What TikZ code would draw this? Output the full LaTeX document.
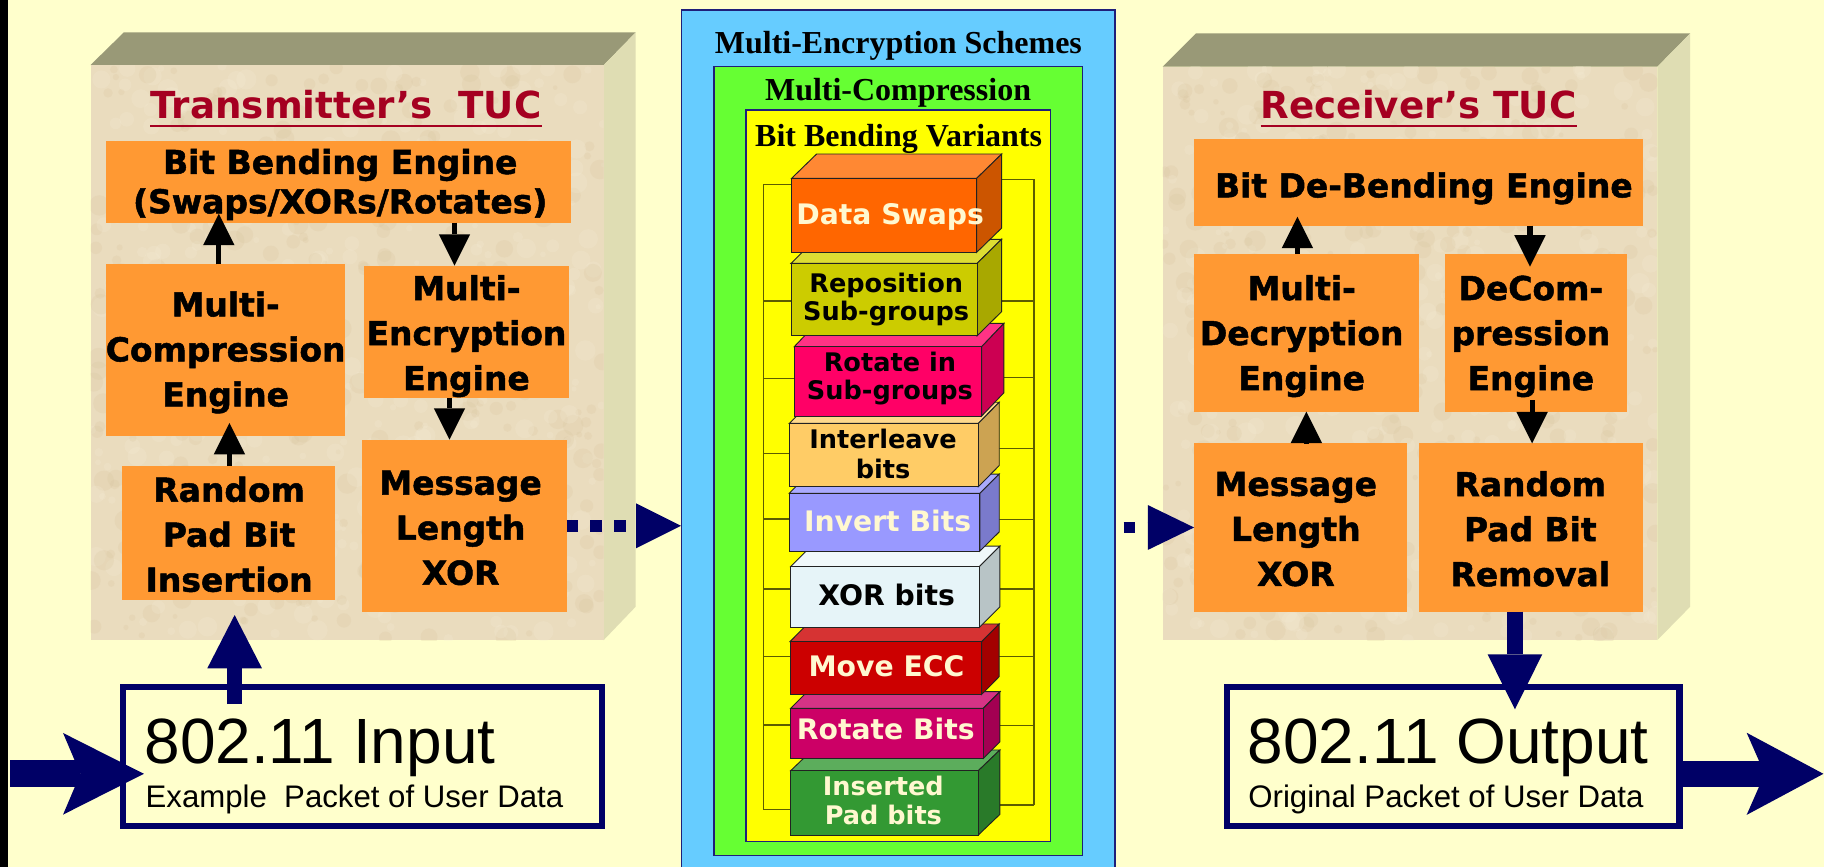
\documentclass[tikz,border=0pt]{standalone}
\usepackage{fontspec}
\setmainfont{DejaVu Sans}
\newfontfamily\boxf{DejaVu Sans Bold}[FakeBold=1.5]
\newfontfamily\arialf{Liberation Sans}
\newfontfamily\timesf{Liberation Serif}
\usetikzlibrary{arrows.meta,fit}
\definecolor{bg}{HTML}{FFFFCC}
\definecolor{tuctop}{HTML}{999977}
\definecolor{tucside}{HTML}{DFDDB3}
\definecolor{tucfront}{HTML}{EADCBE}
\definecolor{texlight}{HTML}{F6EDD8}
\definecolor{texdark}{HTML}{D8C49E}
\definecolor{orng}{HTML}{FF9933}
\definecolor{navy}{HTML}{000066}
\definecolor{titlered}{HTML}{A50021}
\definecolor{cblue}{HTML}{66CCFF}
\definecolor{cgreen}{HTML}{66FF33}
\definecolor{cyellow}{HTML}{FFFF00}
\definecolor{cborder}{HTML}{1F1F7A}
\definecolor{stkcol}{HTML}{5C5C00}
\definecolor{edge}{HTML}{222222}
\definecolor{cream}{HTML}{FFF8D0}
% block colours: f = front, t = top, s = side
\definecolor{bDSf}{HTML}{FF6600}\definecolor{bDSt}{HTML}{FF8833}\definecolor{bDSs}{HTML}{CC5500}
\definecolor{bRPf}{HTML}{CCCC00}\definecolor{bRPt}{HTML}{DDDD33}\definecolor{bRPs}{HTML}{A8A800}
\definecolor{bRIf}{HTML}{FF0066}\definecolor{bRIt}{HTML}{FF3385}\definecolor{bRIs}{HTML}{CC0052}
\definecolor{bILf}{HTML}{FFCC66}\definecolor{bILt}{HTML}{FFD98C}\definecolor{bILs}{HTML}{CCA352}
\definecolor{bIBf}{HTML}{9999FF}\definecolor{bIBt}{HTML}{AAAAFF}\definecolor{bIBs}{HTML}{7A7ACC}
\definecolor{bXBf}{HTML}{E6F4F8}\definecolor{bXBt}{HTML}{F0F8FA}\definecolor{bXBs}{HTML}{B8C4C6}
\definecolor{bMEf}{HTML}{CC0000}\definecolor{bMEt}{HTML}{D63333}\definecolor{bMEs}{HTML}{A30000}
\definecolor{bRBf}{HTML}{CC0066}\definecolor{bRBt}{HTML}{D63385}\definecolor{bRBs}{HTML}{A30052}
\definecolor{bIPf}{HTML}{339933}\definecolor{bIPt}{HTML}{5CAD5C}\definecolor{bIPs}{HTML}{297A29}
% #1 name, #2 x1, #3 y1, #4 x2, #5 y2, #6 dx, #7 dy
\newcommand{\bblock}[7]{%
  \filldraw[fill=#1t, draw=edge, line width=.8pt] (#2,#3) -- (#2+#6,#3-#7) -- (#4+#6,#3-#7) -- (#4,#3) -- cycle;
  \filldraw[fill=#1s, draw=edge, line width=.8pt] (#4,#3) -- (#4+#6,#3-#7) -- (#4+#6,#5-#7) -- (#4,#5) -- cycle;
  \node[fit={(#2,#3) (#4,#5)}, inner sep=0pt, fill=#1f, draw=edge, line width=.8pt] (#1) {};
}
% parchment texture inside a rectangle: #1 x1, #2 y1, #3 width, #4 height
\newcommand{\parchment}[4]{%
  \begin{scope}
  \clip (#1,#2) rectangle (#1+#3,#2+#4);
  \foreach \i in {1,...,700}{%
    \pgfmathsetmacro{\px}{#1+#3*rnd}%
    \pgfmathsetmacro{\py}{#2+#4*rnd}%
    \pgfmathsetmacro{\rr}{2+7*rnd}%
    \pgfmathsetmacro{\cc}{rnd}%
    \ifdim\cc pt<0.5pt \def\tcol{texlight}\else\def\tcol{texdark}\fi
    \fill[\tcol, opacity=0.22] (\px,\py) circle[radius=\rr];
  }
  \end{scope}
}
\begin{document}
\begin{tikzpicture}[x=1pt,y=-1pt,
  obox/.style={fill=orng, inner sep=0pt, outer sep=0pt},
  boxtxt/.style={font=\boxf\fontsize{28.3}{38.7}\selectfont, align=center, inner sep=0pt, text=black},
  blktwo/.style={font=\bfseries\fontsize{22}{24.5}\selectfont, align=center, inner sep=0pt},
  blkone/.style={font=\bfseries\fontsize{24.3}{29}\selectfont, inner sep=0pt},
  ttlfont/.style={font=\bfseries\fontsize{32}{38}\selectfont, text=titlered, inner sep=0pt},
  ctitle/.style={font=\timesf\bfseries\fontsize{27.5}{33}\selectfont, inner sep=0pt},
  blkarr/.style={draw=black, line width=4.5pt, -{Triangle[length=27pt,width=27pt,line width=0pt]}},
  nest/.style={inner sep=0pt, draw=cborder, line width=1pt},
  stk/.style={draw=stkcol, line width=1pt},
  iobox/.style={draw=navy, line width=5.4pt, inner sep=0pt},
  iobig/.style={font=\arialf\fontsize{55}{60}\selectfont, inner sep=0pt, anchor=base west},
  iosmall/.style={font=\arialf\fontsize{26.8}{30}\selectfont, inner sep=0pt, anchor=base west},
]
\useasboundingbox (0,0) rectangle (1568,745);
\clip (0,0) rectangle (1568,745);
\fill[bg] (0,0) rectangle (1568,745);
\fill[black] (0,0) rectangle (7.2,745);
\pgfmathsetseed{4242}

% ---------- Transmitter's TUC ----------
\fill[tuctop] (77.8,55.9) -- (106.5,27.8) -- (546.5,27.8) -- (519,55.9) -- cycle;
\fill[tucside] (519,55.9) -- (546.5,27.8) -- (546.5,521.5) -- (519,550.2) -- cycle;
\node[fit={(77.8,55.9) (519,550.2)}, inner sep=0pt, fill=tucfront] (ltuc) {};
\parchment{77.8}{55.9}{441.2}{494.3}
\node[ttlfont, anchor=base] (ttl) at (297.5,101.7) {Transmitter’s\ \ TUC};
\draw[titlered, line width=2.5pt] ([yshift=-6.6pt]ttl.base west) -- ([yshift=-6.6pt]ttl.base east);

\node[obox, fit={(91.2,121.2) (491,191.4)}] (bbe) {};
\node[obox, fit={(91.2,227.2) (296.7,374.5)}] (mc) {};
\node[obox, fit={(313,228.4) (489.5,342.4)}] (me) {};
\node[obox, fit={(104.9,400.6) (288.3,515.8)}] (rpi) {};
\node[obox, fit={(311,378) (487,526)}] (mlx) {};

\node[boxtxt, font=\boxf\fontsize{28.3}{33.8}\selectfont] (tbbe) at (292.5,159.7) {\strut Bit Bending Engine\\(Swaps/XORs/Rotates)\strut};
\node[boxtxt] (tmc) at (194,302.9) {\strut Multi-\\Compression\\Engine\strut};
\node[boxtxt] (tme) at (401,288.9) {\strut Multi-\\Encryption\\Engine\strut};
\node[boxtxt] (trpi) at (197,462.2) {\strut Random\\Pad Bit\\Insertion\strut};
\node[boxtxt] (tmlx) at (396,456.2) {\strut Message\\Length\\XOR\strut};

% ---------- Receiver's TUC ----------
\fill[tuctop] (999.5,57.3) -- (1028.2,28.7) -- (1453,28.7) -- (1424.8,57.3) -- cycle;
\fill[tucside] (1424.8,57.3) -- (1453,28.7) -- (1453,521.5) -- (1424.8,550.2) -- cycle;
\node[fit={(999.5,57.3) (1424.8,550.2)}, inner sep=0pt, fill=tucfront] (rtuc) {};
\parchment{999.5}{57.3}{425.3}{492.9}
\node[ttlfont, anchor=base] (rttl) at (1219.5,101.7) {Receiver’s TUC};
\draw[titlered, line width=2.5pt] ([yshift=-6.6pt]rttl.base west) -- ([yshift=-6.6pt]rttl.base east);

\node[obox, fit={(1026.5,119.8) (1412.5,194)}] (bdb) {};
\node[obox, fit={(1026.5,218.3) (1219.5,353.9)}] (md) {};
\node[obox, fit={(1242.2,218.3) (1398.2,353.9)}] (dc) {};
\node[obox, fit={(1026.5,381.1) (1209.8,525.8)}] (mlr) {};
\node[obox, fit={(1219.5,381.1) (1412.5,525.8)}] (rpr) {};

\node[boxtxt] (tbdb) at (1224,161.9) {\strut Bit De-Bending Engine\strut};
\node[boxtxt] (tmd) at (1119,288.9) {\strut Multi-\\Decryption\\Engine\strut};
\node[boxtxt] (tdc) at (1316,288.9) {\strut DeCom-\\pression\\Engine\strut};
\node[boxtxt] (tmlr) at (1114,457.2) {\strut Message\\Length\\XOR\strut};
\node[boxtxt] (trpr) at (1315.5,457.5) {\strut Random\\Pad Bit\\Removal\strut};

% ---------- black arrows ----------
\coordinate (ax1) at (188.1,0);
\coordinate (ax2) at (390.7,0);
\coordinate (ax3) at (386.4,0);
\coordinate (ax4) at (197.2,0);
\coordinate (ax5) at (1115.3,0);
\coordinate (ax6) at (1315.2,0);
\coordinate (ax7) at (1123,0);
\coordinate (ax8) at (1317.1,0);
\draw[blkarr, shorten >=-7.6pt] (mc.north -| ax1) -- (bbe.south -| ax1);
\draw[blkarr] (bbe.south -| ax2) -- (me.north -| ax2);
\draw[blkarr] (me.south -| ax3) -- (mlx.north -| ax3);
\draw[blkarr, shorten >=-10.9pt] (rpi.north -| ax4) -- (mc.south -| ax4);
\draw[blkarr, shorten >=-7.7pt] (md.north -| ax5) -- (bdb.south -| ax5);
\draw[blkarr, shorten >=-10.9pt] (bdb.south -| ax6) -- (dc.north -| ax6);
\draw[blkarr] (mlr.north -| ax7) -- (md.south -| ax7);
\draw[blkarr, shorten <=-10pt] (dc.south -| ax8) -- (rpr.north -| ax8);

% ---------- central nested boxes ----------
\node[nest, fill=cblue, fit={(586,8.6) (958.5,760)}] (blue) {};
\node[nest, fill=cgreen, fit={(613.8,57.3) (930.7,735.6)}] (green) {};
\node[nest, fill=cyellow, fit={(641.3,94.6) (903.2,723.5)}] (yellow) {};
\node[ctitle, anchor=base] (tblue) at (772.3,45.9) {Multi-Encryption Schemes};
\node[ctitle, anchor=base] (tgreen) at (772,86) {Multi-Compression};
\node[ctitle, anchor=base] (tyellow) at (772.5,126) {Bit Bending Variants};

% stack bracket lines
\draw[stk] (656.2,158.5) -- (656.2,696.3);
\draw[stk] (888.9,154.2) -- (888.9,692);
\foreach \yy in {158.5,258.8,325.2,389.7,446.2,506.3,564.5,623.2,695.7}
  \draw[stk] (656.2,\yy) -- (690,\yy);
\foreach \yy in {154.2,258.8,324.6,385.4,446.5,506.3,564,623.8,692}
  \draw[stk] (888.9,\yy) -- (850,\yy);

% blocks, bottom to top
\bblock{bIP}{679.7}{662.5}{841}{717.8}{18.6}{17.8}
\bblock{bRB}{679.7}{608.9}{845.3}{651.9}{14.3}{14.3}
\bblock{bME}{679.1}{551.6}{843.9}{596.9}{15}{15.2}
\bblock{bXB}{679.7}{487.1}{841.9}{539.3}{17.7}{17.7}
\bblock{bIB}{678.5}{424}{842.4}{473.7}{16.6}{16.5}
\bblock{bIL}{678.5}{364}{841}{418.4}{18}{18.2}
\bblock{bRI}{682.8}{298}{843.9}{357.6}{19.1}{20}
\bblock{bRP}{680}{226.4}{840}{288.6}{21}{20.7}
\bblock{bDS}{680.5}{153.3}{839.6}{216.9}{21.5}{20.9}

\node[blkone, text=cream] (tDS) at (765.2,186.8) {\strut Data Swaps};
\node[blktwo, text=black] (tRP) at (761.8,258.7) {\strut Reposition\\Sub-groups\strut};
\node[blktwo, text=black] (tRI) at (765,326.4) {\strut Rotate in\\Sub-groups\strut};
\node[blktwo, text=black, font=\bfseries\fontsize{22}{25.5}\selectfont] (tIL) at (759.1,393.2) {\strut Interleave\\bits\strut};
\node[blkone, text=cream] (tIB) at (763,450.7) {\strut Invert Bits};
\node[blkone, text=black] (tXB) at (762.2,514.9) {\strut XOR bits};
\node[blkone, text=cream] (tME) at (762,575.9) {\strut Move ECC};
\node[blkone, text=cream] (tRB) at (761.5,630.3) {\strut Rotate Bits};
\node[blktwo, text=cream, font=\bfseries\fontsize{22}{25.5}\selectfont] (tIP) at (759.4,691.2) {\strut Inserted\\Pad bits\strut};

% ---------- input / output boxes ----------
\node[iobox, minimum width=411.5pt, minimum height=119.6pt] (inbox) at (311.55,650.5) {};
\node[iobig] (tin1) at (124,656.2) {802.11 Input};
\node[iosmall] (tin2) at (125,694) {Example\ \ Packet of User Data};
\node[iobox, minimum width=388.7pt, minimum height=119.6pt] (outbox) at (1249.35,650.5) {};
\node[iobig] (tout1) at (1072.5,656.2) {802.11 Output};
\node[iosmall] (tout2) at (1073,694) {Original Packet of User Data};

% ---------- navy arrows ----------
\coordinate (inA) at (8.6,665.2);
\coordinate (outB) at (1567.5,665.2);
\coordinate (upx) at (201.7,0);
\coordinate (dnx) at (1302.3,0);
\draw[navy, line width=22.9pt, shorten >=-20.6pt,
  -{Stealth[length=69.5pt,width=70.2pt,inset=14.9pt,line width=0pt]}]
  (inA) -- (inA -| inbox.west);
\draw[navy, line width=12.7pt, shorten <=-17.2pt, shorten >=12.9pt,
  -{Triangle[length=45.8pt,width=47pt,line width=0pt]}]
  (inbox.north -| upx) -- (rpi.south -| upx);
\draw[navy, line width=13.5pt, shorten >=-21.8pt,
  -{Triangle[length=47.3pt,width=47pt,line width=0pt]}]
  (rpr.south -| dnx) -- (outbox.north -| dnx);
\draw[navy, line width=22.8pt,
  -{Stealth[length=66pt,width=70.6pt,inset=15.5pt,line width=0pt]}]
  (outB -| outbox.east) -- (outB);
\draw[navy, line width=9.8pt, dash pattern=on 9.8pt off 10.8pt,
  -{Triangle[length=38.7pt,width=38.6pt,line width=0pt]}]
  (mlx.east) -- (mlx.east -| blue.west);
\draw[navy, line width=9.8pt, dash pattern=on 9.8pt off 10.8pt, dash phase=13.6pt,
  -{Triangle[length=39.8pt,width=38.6pt,line width=0pt]}]
  (mlr.west -| blue.east) -- (mlr.west);
\end{tikzpicture}
\end{document}
